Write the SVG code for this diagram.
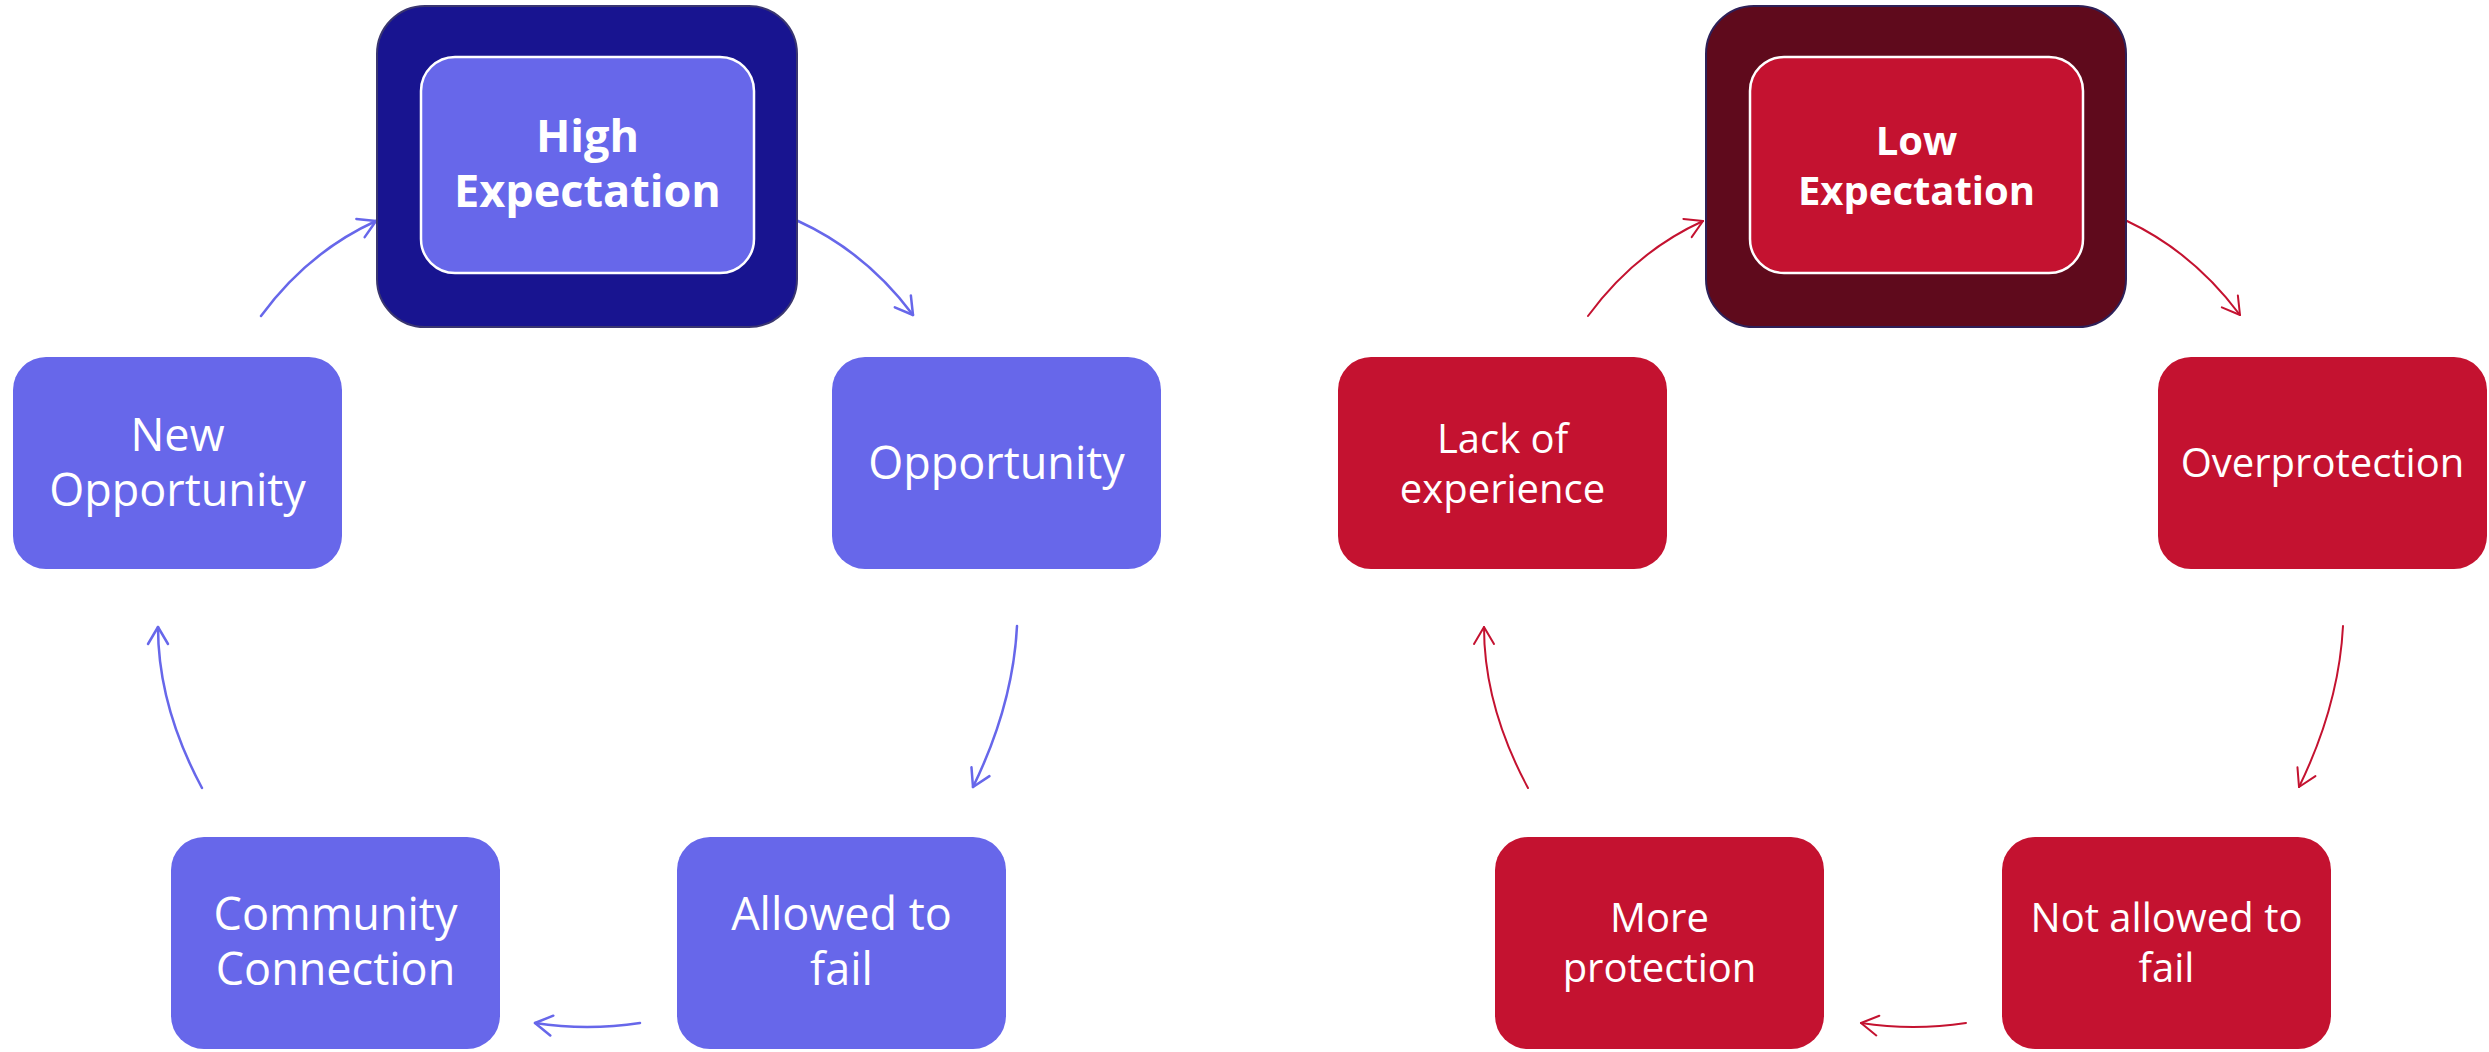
<svg xmlns="http://www.w3.org/2000/svg" width="2489" height="1052" viewBox="0 0 2489 1052">
<style>
.txt{font-family:"Open Sans","Noto Sans","DejaVu Sans",sans-serif;fill:#ffffff;text-anchor:middle}
.l{font-size:45px}
.r{font-size:40px}
.b{font-weight:700}
.nb{fill:#6767EA}
.nr{fill:#C41230}
.ob{fill:#181490;stroke:#3a3670;stroke-width:2}
.or{fill:#5F0A1C;stroke:#2e2058;stroke-width:2}
.ib{fill:#6767EA;stroke:#ffffff;stroke-width:2.5}
.ir{fill:#C41230;stroke:#ffffff;stroke-width:2.5}
.cb{fill:none;stroke:#6767EA;stroke-width:2.5;stroke-linecap:round}
.cr{fill:none;stroke:#C41230;stroke-width:2;stroke-linecap:round}
</style>
<defs>
<marker id="ab" markerUnits="userSpaceOnUse" viewBox="-22 -14 26 28" markerWidth="26" markerHeight="28" refX="0" refY="0" orient="auto">
<path d="M-17,-10 L0,0 L-17,10" fill="none" stroke="#6767EA" stroke-width="2.5" stroke-linecap="round" stroke-linejoin="round"/>
</marker>
<marker id="ar" markerUnits="userSpaceOnUse" viewBox="-22 -14 26 28" markerWidth="26" markerHeight="28" refX="0" refY="0" orient="auto">
<path d="M-17,-10 L0,0 L-17,10" fill="none" stroke="#C41230" stroke-width="2" stroke-linecap="round" stroke-linejoin="round"/>
</marker>
</defs>
<rect width="2489" height="1052" fill="#ffffff"/>
<g id="connectors">
<path class="cb" d="M261,316 Q308,252 376,221" marker-end="url(#ab)"/>
<path class="cb" d="M798,221 Q866,252 913,315" marker-end="url(#ab)"/>
<path class="cb" d="M1017,626 Q1013,705 973,787" marker-end="url(#ab)"/>
<path class="cb" d="M640,1023 Q587,1031 535,1023" marker-end="url(#ab)"/>
<path class="cb" d="M202,788 Q158,706 158,627" marker-end="url(#ab)"/>
<path class="cr" d="M1588,316 Q1635,252 1703,221" marker-end="url(#ar)"/>
<path class="cr" d="M2127,221 Q2193,252 2240,315" marker-end="url(#ar)"/>
<path class="cr" d="M2343,626 Q2339,705 2299,787" marker-end="url(#ar)"/>
<path class="cr" d="M1966,1023 Q1913,1031 1861,1023" marker-end="url(#ar)"/>
<path class="cr" d="M1528,788 Q1484,706 1484,627" marker-end="url(#ar)"/>
</g>
<g id="high-expectation">
<rect class="ob" x="377" y="6" width="420" height="321" rx="48"/>
<rect class="ib" x="421" y="57" width="333" height="216" rx="34"/>
<text class="txt l b" x="587.5" y="152">High</text>
<text class="txt l b" x="587.5" y="207">Expectation</text>
</g>
<g id="opportunity">
<rect class="nb" x="832" y="357" width="329" height="212" rx="33"/>
<text class="txt l" x="996.5" y="479">Opportunity</text>
</g>
<g id="allowed-to-fail">
<rect class="nb" x="677" y="837" width="329" height="212" rx="33"/>
<text class="txt l" x="841.5" y="930">Allowed to</text>
<text class="txt l" x="841.5" y="985">fail</text>
</g>
<g id="community-connection">
<rect class="nb" x="171" y="837" width="329" height="212" rx="33"/>
<text class="txt l" x="335.5" y="930">Community</text>
<text class="txt l" x="335.5" y="985">Connection</text>
</g>
<g id="new-opportunity">
<rect class="nb" x="13" y="357" width="329" height="212" rx="33"/>
<text class="txt l" x="177.5" y="451">New</text>
<text class="txt l" x="177.5" y="506">Opportunity</text>
</g>
<g id="low-expectation">
<rect class="or" x="1706" y="6" width="420" height="321" rx="48"/>
<rect class="ir" x="1750" y="57" width="333" height="216" rx="34"/>
<text class="txt r b" x="1916.5" y="155">Low</text>
<text class="txt r b" x="1916.5" y="205">Expectation</text>
</g>
<g id="overprotection">
<rect class="nr" x="2158" y="357" width="329" height="212" rx="33"/>
<text class="txt r" x="2322.5" y="477">Overprotection</text>
</g>
<g id="not-allowed-to-fail">
<rect class="nr" x="2002" y="837" width="329" height="212" rx="33"/>
<text class="txt r" x="2166.5" y="932">Not allowed to</text>
<text class="txt r" x="2166.5" y="982">fail</text>
</g>
<g id="more-protection">
<rect class="nr" x="1495" y="837" width="329" height="212" rx="33"/>
<text class="txt r" x="1659.5" y="932">More</text>
<text class="txt r" x="1659.5" y="982">protection</text>
</g>
<g id="lack-of-experience">
<rect class="nr" x="1338" y="357" width="329" height="212" rx="33"/>
<text class="txt r" x="1502.5" y="453">Lack of</text>
<text class="txt r" x="1502.5" y="503">experience</text>
</g>
</svg>
